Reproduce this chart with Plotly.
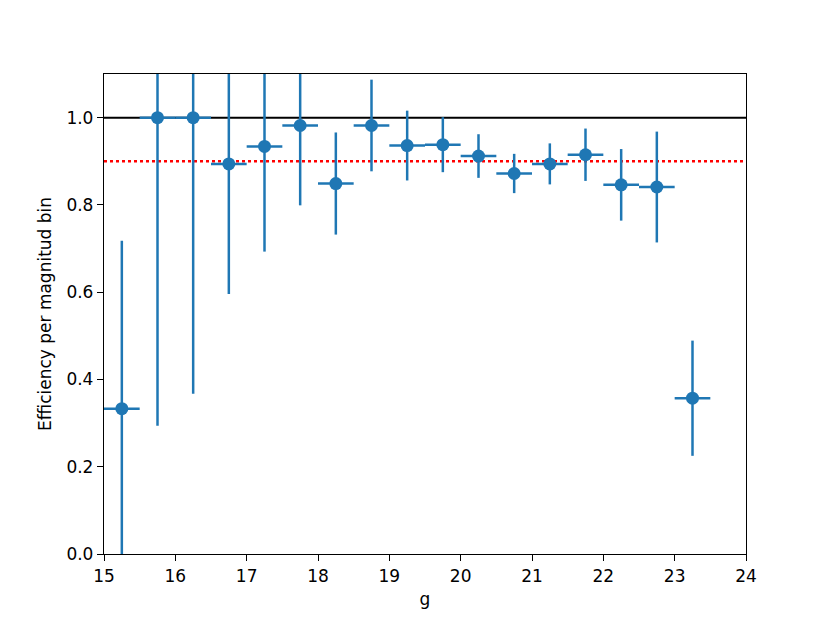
"""Efficiency per magnitude bin, with error bars"""
import plotly.graph_objects as go

mag_bins = [15.25, 15.75, 16.25, 16.75, 17.25, 17.75, 18.25, 18.75, 19.25,
            19.75, 20.25, 20.75, 21.25, 21.75, 22.25, 22.75, 23.25]
efficiency = [0.333, 1.0, 1.0, 0.894, 0.934, 0.982, 0.849, 0.982, 0.936,
              0.938, 0.912, 0.872, 0.894, 0.915, 0.846, 0.841, 0.357]
eff_err = [0.385, 0.706, 0.633, 0.298, 0.241, 0.183, 0.117, 0.105, 0.08,
           0.063, 0.05, 0.045, 0.047, 0.06, 0.082, 0.127, 0.132]
bin_half_width = [0.25] * len(mag_bins)

reference_level = 1.0
target_level = 0.9

blue = '#1f77b4'
font = dict(family='DejaVu Sans', size=17, color='black')

fig = go.Figure()

fig.add_hline(y=reference_level, line=dict(color='black', width=2), layer='below')
fig.add_hline(y=target_level, line=dict(color='red', width=2.5, dash='dot'), layer='below')

fig.add_trace(go.Scatter(
    x=mag_bins, y=efficiency, mode='markers',
    marker=dict(color=blue, size=13),
    error_x=dict(type='data', array=bin_half_width, color=blue, thickness=2.5, width=0),
    error_y=dict(type='data', array=eff_err, color=blue, thickness=2.5, width=0),
    showlegend=False,
))

axis_style = dict(showgrid=False, zeroline=False, showline=True, linecolor='black',
                  linewidth=1.3, mirror=True, ticks='outside', ticklen=6,
                  tickwidth=1.3, tickcolor='black', tickfont=font)

fig.update_xaxes(range=[15, 24], dtick=1, title=dict(text='g', font=font, standoff=8),
                 **axis_style)
fig.update_yaxes(range=[0, 1.1], tick0=0, dtick=0.2, tickformat='.1f',
                 title=dict(text='Efficiency per magnitud bin', font=font, standoff=10),
                 **axis_style)

# page body adds 8px offset, so margins are shifted to keep the plot box in place
fig.update_layout(width=830, height=623, plot_bgcolor='white', paper_bgcolor='white',
                  margin=dict(l=96, r=92, t=66, b=77), font=font)

fig.write_html("out.html")
